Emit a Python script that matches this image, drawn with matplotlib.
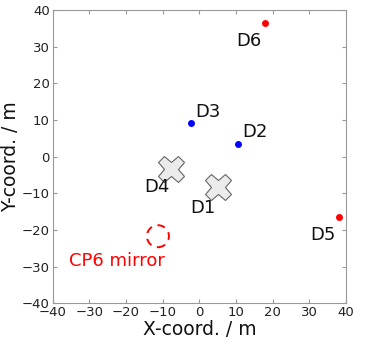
import matplotlib
matplotlib.use('Agg')
import matplotlib.pyplot as plt
from matplotlib.patches import Circle

# detector positions
red_names = ['D6', 'D5']
red_x = [17.9, 38.1]
red_y = [36.5, -16.5]
blue_names = ['D3', 'D2']
blue_x = [-2.3, 10.6]
blue_y = [9.2, 3.4]
cross_names = ['D4', 'D1']
cross_x = [-7.7, 5.1]
cross_y = [-3.4, -8.3]
mirror_x, mirror_y, mirror_r = -11.3, -21.7, 3.0

label_pos = {'D6': (13.6, 31.5), 'D5': (33.8, -21.4), 'D3': (2.4, 12.2),
             'D2': (15.2, 6.7), 'D4': (-11.5, -8.3), 'D1': (1.0, -14.0)}
ticks = [-40, -30, -20, -10, 0, 10, 20, 30, 40]

fig, ax = plt.subplots(figsize=(3.67, 3.45), dpi=100)
fig.subplots_adjust(left=52.7/367, right=346/367, bottom=1-303.3/345, top=1-10/345)

ax.plot(red_x, red_y, 'o', color='red', markersize=5, markeredgewidth=0)
ax.plot(blue_x, blue_y, 'o', color='blue', markersize=5, markeredgewidth=0)
ax.plot(cross_x, cross_y, 'X', markersize=19, markerfacecolor='#ebebeb',
        markeredgecolor='#666666', markeredgewidth=0.8)
ax.add_patch(Circle((mirror_x, mirror_y), mirror_r, fill=False, edgecolor='red',
                    linestyle=(0, (4, 3)), linewidth=1.4))

for name, (lx, ly) in label_pos.items():
    ax.text(lx, ly, name, fontsize=13, ha='center', va='center', color='#111111')
ax.text(-22.5, -28.5, 'CP6 mirror', fontsize=13, ha='center', va='center', color='red')

ax.set_xlim(-40, 40)
ax.set_ylim(-40, 40)
ax.set_xticks(ticks)
ax.set_yticks(ticks)
ax.tick_params(direction='in', length=3, color='#999999', labelsize=9.5,
               labelcolor='#222222', pad=2, top=True, right=True)
for s in ax.spines.values():
    s.set_color('#999999')
ax.set_xlabel('X-coord. / m', fontsize=13.5, color='#111111', labelpad=1)
ax.set_ylabel('Y-coord. / m', fontsize=13.5, color='#111111', labelpad=1)

fig.savefig('out.png')
